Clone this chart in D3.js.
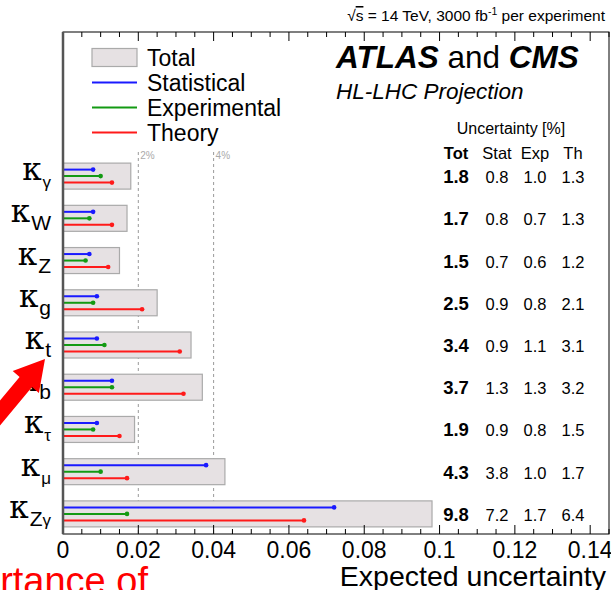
<!DOCTYPE html>
<html>
<head>
<meta charset="utf-8">
<script src="https://cdn.jsdelivr.net/npm/d3@7"></script>
<style>
  body { margin: 0; background: #fff; }
  svg { display: block; font-family: "Liberation Sans", Arial, sans-serif; }
</style>
</head>
<body>
<svg width="611" height="590"></svg>
<script>
// couplings, top to bottom (subscript of kappa)
var kappa_sub = ["γ", "W", "Z", "g", "t", "b", "τ", "μ", "Zγ"];
// uncertainties in %
var tot  = [1.8, 1.7, 1.5, 2.5, 3.4, 3.7, 1.9, 4.3, 9.8];
var stat = [0.8, 0.8, 0.7, 0.9, 0.9, 1.3, 0.9, 3.8, 7.2];
var expe = [1.0, 0.7, 0.6, 0.8, 1.1, 1.3, 0.8, 1.0, 1.7];
var theo = [1.3, 1.3, 1.2, 2.1, 3.1, 3.2, 1.5, 1.7, 6.4];
var xTicks = [0, 0.02, 0.04, 0.06, 0.08, 0.1, 0.12, 0.14];
var refLines = [0.02, 0.04];
var colonne = ["Tot", "Stat", "Exp", "Th"];

var svg = d3.select("svg"),
  sx = 63, dx = 609, alto = 32, basso = 534;

var x = d3.scaleLinear().domain([0, 0.145]).range([sx, dx]);
var y = d3.scaleBand().domain(d3.range(kappa_sub.length)).range([155, 535]);

var BLU = "#1a1aff", VERDE = "#139a13", ROSSO = "#ff1a1a";

var righe = kappa_sub.map(function(s, i) {
  return {sub: s, tot: tot[i], comp: [
    {v: stat[i], col: BLU, dy: -6.5},
    {v: expe[i], col: VERDE, dy: 0},
    {v: theo[i], col: ROSSO, dy: 6.5}
  ]};
});

// linee tratteggiate 2% 4%
refLines.forEach(function(r) {
  svg.append("line")
    .attr("x1", x(r)).attr("x2", x(r))
    .attr("y1", 152).attr("y2", basso)
    .attr("stroke", "#999").attr("stroke-width", 1)
    .attr("stroke-dasharray", "3,3");
  svg.append("text")
    .attr("x", x(r) + 2).attr("y", 159)
    .attr("font-size", 10).attr("fill", "#aaa")
    .text(Math.round(r * 100) + "%");
});

// barre totali + componenti
var g = svg.selectAll(".riga").data(righe).enter().append("g")
  .attr("transform", function(d, i) { return "translate(0," + (y(i) + y.bandwidth() / 2) + ")"; });

g.append("rect")
  .attr("x", x(0)).attr("y", -13)
  .attr("width", function(d) { return x(d.tot / 100) - x(0); })
  .attr("height", 26)
  .attr("fill", "#e6e1e3").attr("stroke", "#aaa").attr("stroke-width", 1.2);

g.each(function(d) {
  var gg = d3.select(this);
  d.comp.forEach(function(c) {
    gg.append("line")
      .attr("x1", x(0)).attr("x2", x(c.v / 100))
      .attr("y1", c.dy).attr("y2", c.dy)
      .attr("stroke", c.col).attr("stroke-width", 2);
    gg.append("circle")
      .attr("cx", x(c.v / 100)).attr("cy", c.dy).attr("r", 2.3)
      .attr("fill", c.col);
  });
});

// tabella a destra
var colX = [456, 497, 535, 573];
g.each(function(d, i) {
  var vals = [tot[i], stat[i], expe[i], theo[i]];
  d3.select(this).selectAll("text.val").data(vals).enter().append("text")
    .attr("class", "val")
    .attr("x", function(v, j) { return colX[j]; })
    .attr("y", 7)
    .attr("text-anchor", "middle")
    .attr("font-size", function(v, j) { return j == 0 ? 18.5 : 16.5; })
    .attr("font-weight", function(v, j) { return j == 0 ? "bold" : "normal"; })
    .text(function(v) { return v.toFixed(1); });
});

colonne.forEach(function(h, j) {
  svg.append("text")
    .attr("x", colX[j]).attr("y", 159)
    .attr("text-anchor", "middle")
    .attr("font-size", 16.5)
    .attr("font-weight", j == 0 ? "bold" : "normal")
    .text(h);
});
svg.append("text")
  .attr("x", 511).attr("y", 134)
  .attr("text-anchor", "middle").attr("font-size", 16)
  .text("Uncertainty [%]");

// etichette kappa
g.append("text")
  .attr("x", 51).attr("y", 4)
  .attr("text-anchor", "end")
  .each(function(d) {
    var t = d3.select(this);
    t.append("tspan")
      .attr("font-family", "'DejaVu Serif', serif")
      .attr("font-size", 31).text("κ");
    d.sub.split("").forEach(function(ch, k) {
      var greco = /[α-ω]/.test(ch);
      var ts = t.append("tspan")
        .attr("font-size", greco ? 17 : 21)
        .text(ch);
      if (k == 0) ts.attr("dx", 1).attr("dy", 8);
    });
  });

// assi e cornice
var tickVals = d3.range(0, 0.1451, 0.005);
svg.append("rect")
  .attr("x", sx).attr("y", alto)
  .attr("width", dx - sx).attr("height", basso - alto)
  .attr("fill", "none").attr("stroke", "#000").attr("stroke-width", 1);
tickVals.forEach(function(t) {
  var major = Math.abs(t / 0.02 - Math.round(t / 0.02)) < 1e-6;
  var len = major ? 9 : 5;
  svg.append("line").attr("x1", x(t)).attr("x2", x(t))
    .attr("y1", basso).attr("y2", basso - len)
    .attr("stroke", "#000");
  svg.append("line").attr("x1", x(t)).attr("x2", x(t))
    .attr("y1", alto).attr("y2", alto + len)
    .attr("stroke", "#000");
});
svg.append("line")
  .attr("x1", sx).attr("x2", sx)
  .attr("y1", alto).attr("y2", basso)
  .attr("stroke", "#555").attr("stroke-width", 2.5);

svg.selectAll(".xlab").data(xTicks).enter().append("text")
  .attr("x", function(d) { return x(d); })
  .attr("y", 558)
  .attr("text-anchor", "middle").attr("font-size", 23)
  .text(function(d) { return d; });

svg.append("text")
  .attr("x", 606).attr("y", 586)
  .attr("text-anchor", "end").attr("font-size", 28.5)
  .text("Expected uncertainty");

// intestazione
var head = svg.append("text")
  .attr("x", 605).attr("y", 21)
  .attr("text-anchor", "end").attr("font-size", 15.5);
head.append("tspan").text("√");
head.append("tspan").attr("text-decoration", "overline").text("s");
head.append("tspan").text(" = 14 TeV, 3000 fb");
head.append("tspan").attr("font-size", 10.5).attr("dy", -6).text("-1");
head.append("tspan").attr("dy", 6).text(" per experiment");

var atl = svg.append("text")
  .attr("x", 336).attr("y", 68).attr("font-size", 31.5);
atl.append("tspan").attr("font-weight", "bold").attr("font-style", "italic").text("ATLAS");
atl.append("tspan").text(" and ");
atl.append("tspan").attr("font-weight", "bold").attr("font-style", "italic").text("CMS");

svg.append("text")
  .attr("x", 336).attr("y", 99)
  .attr("font-size", 22.5).attr("font-style", "italic")
  .text("HL-LHC Projection");

// legenda
var leg = [
  {nome: "Total", col: null},
  {nome: "Statistical", col: BLU},
  {nome: "Experimental", col: VERDE},
  {nome: "Theory", col: ROSSO}
];
leg.forEach(function(l, i) {
  var yy = 57.5 + i * 25;
  if (l.col == null) {
    svg.append("rect").attr("x", 92).attr("y", yy - 9)
      .attr("width", 45).attr("height", 18)
      .attr("fill", "#e6e1e3").attr("stroke", "#aaa").attr("stroke-width", 1.2);
  } else {
    svg.append("line").attr("x1", 92).attr("x2", 137)
      .attr("y1", yy).attr("y2", yy)
      .attr("stroke", l.col).attr("stroke-width", 2);
  }
  svg.append("text").attr("x", 147).attr("y", yy + 8)
    .attr("font-size", 23).text(l.nome);
});

// freccia rossa e testo della slide
svg.append("path")
  .attr("d", "M45,359 L12.7,371 L19.6,376.9 L-25.2,430.9 L-12.8,441 L32,387 L38.9,392.9 Z")
  .attr("fill", "#ff0000");
svg.append("text")
  .attr("x", 148).attr("y", 594)
  .attr("text-anchor", "end").attr("font-size", 38).attr("fill", "#ff0000")
  .text("importance of");
</script>
</body>
</html>
